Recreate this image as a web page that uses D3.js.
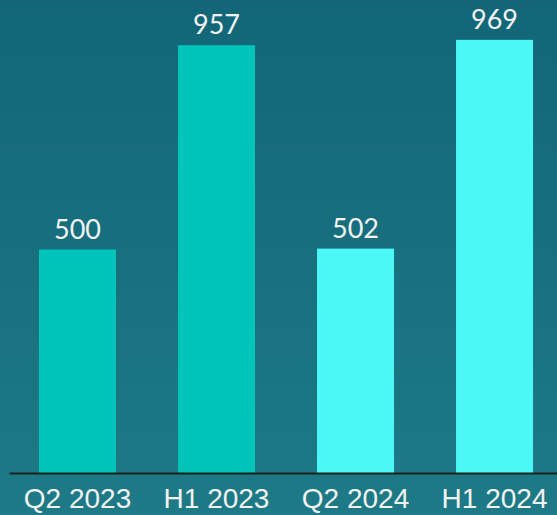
<!DOCTYPE html>
<html>
<head>
<meta charset="utf-8">
<script src="https://cdn.jsdelivr.net/npm/d3@7"></script>
<style>
  html, body { margin: 0; padding: 0; }
  svg { display: block; }
</style>
</head>
<body>
<div class="chart"></div>
<script>
// data
const periods = ["Q2 2023", "H1 2023", "Q2 2024", "H1 2024"]
const values = [500, 957, 502, 969]
const years = ["2023", "2023", "2024", "2024"]

const width = 557
const height = 515
const margin = { top: 26, bottom: 42, left: 9, right: 0 }

const svg = d3.select(".chart")
    .append("svg")
    .attr("width", width)
    .attr("height", height)

// background gradient
const grad = svg.append("defs").append("linearGradient")
    .attr("id", "bg")
    .attr("x1", 0).attr("y1", 0).attr("x2", 0).attr("y2", 1)
grad.append("stop").attr("offset", "0%").attr("stop-color", "#126677")
grad.append("stop").attr("offset", "100%").attr("stop-color", "#1d7a86")

svg.append("rect")
    .attr("width", width)
    .attr("height", height)
    .attr("fill", "url(#bg)")

const data = periods.map((p, i) => ({ period: p, value: values[i], year: years[i] }))

const x = d3.scaleBand()
    .domain(periods)
    .range([margin.left, width - margin.right])
    .paddingInner(0.446)
    .paddingOuter(0.194)
    .align(0.556)

const y = d3.scaleLinear()
    .domain([0, 1000])
    .range([height - margin.bottom, margin.top])

const color = d3.scaleOrdinal()
    .domain(["2023", "2024"])
    .range(["#00c4b9", "#4cf8f6"])

// bars
svg.selectAll(".bar")
    .data(data)
    .enter()
    .append("rect")
    .attr("class", "bar")
    .attr("x", d => x(d.period))
    .attr("y", d => y(d.value))
    .attr("width", x.bandwidth())
    .attr("height", d => y(0) - y(d.value))
    .attr("fill", d => color(d.year))

// value labels
svg.selectAll(".val")
    .data(data)
    .enter()
    .append("text")
    .attr("class", "val")
    .attr("x", d => x(d.period) + x.bandwidth() / 2)
    .attr("y", d => y(d.value) - 11)
    .attr("text-anchor", "middle")
    .attr("fill", "#f2f2f2")
    .style("font-family", "Lato, sans-serif")
    .style("font-size", "27px")
    .text(d => d.value)

// x axis
const xAxis = svg.append("g")
    .attr("transform", `translate(0,${y(0)})`)
    .call(d3.axisBottom(x).tickSize(0).tickPadding(15))

xAxis.select(".domain")
    .attr("stroke", "#1e1e1e")
    .attr("stroke-width", 2)

xAxis.selectAll("text")
    .attr("fill", "#f2f2f2")
    .attr("dy", "0.71em")
    .style("font-family", "'Liberation Sans', sans-serif")
    .style("font-size", "28px")
</script>
</body>
</html>
